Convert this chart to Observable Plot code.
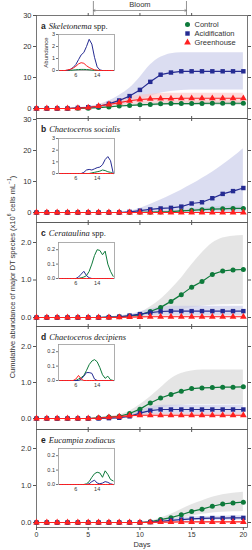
<!DOCTYPE html>
<html><head><meta charset="utf-8">
<script src="https://cdn.jsdelivr.net/npm/d3@7"></script>
<script src="https://cdn.jsdelivr.net/npm/@observablehq/plot@0.6"></script>
<style>
html,body{margin:0;padding:0;background:#fff;}
#chart{position:relative;width:252px;height:550px;overflow:hidden;font-family:"Liberation Sans",Arial,sans-serif;color:#333;}
#chart svg{position:absolute;left:0;}
.plabel{position:absolute;left:41px;height:8px;line-height:8px;white-space:nowrap;color:#222;}
.plabel b{font-family:"Liberation Sans",Arial,sans-serif;font-weight:bold;font-size:8.5px;margin-right:3px;}
.plabel span{font-family:"Liberation Serif","Times New Roman",serif;font-size:8.5px;}
#ytitle{position:absolute;left:-121px;top:271px;width:260px;height:12px;line-height:12px;text-align:center;font-size:7.5px;transform:rotate(-90deg);transform-origin:50% 50%;white-space:nowrap;color:#333;}
</style></head>
<body><div id="chart"></div>
<script>
const days = [0,1,2,3,4,5,6,7,8,9,10,11,12,13,14,15,16,17,18,19,20];
const seriesNames = ["Control","Acidification","Greenhouse"];
const bloomDays = [5.5, 14.5];

// Panel a: Skeletonema spp.
const aControl   = [0,0,0,0,0.05,0.1,0.3,0.5,0.8,1.0,1.2,1.3,1.5,1.6,1.6,1.6,1.65,1.7,1.7,1.7,1.7];
const aControlLo = [0,0,0,0,0,0.05,0.15,0.3,0.5,0.6,0.7,0.8,0.9,1.0,1.0,1.0,1.0,1.0,1.0,1.0,1.0];
const aControlHi = [0,0,0,0,0.1,0.2,0.45,0.75,1.1,1.4,1.7,1.9,2.1,2.2,2.2,2.3,2.3,2.3,2.3,2.3,2.3];
const aAcid      = [0,0,0,0,0.2,0.4,0.7,1.5,2.6,4.0,6.0,8.6,10.9,11.6,12,12,12,12,12,12,12];
const aAcidLo    = [0,0,0,0,0.1,0.2,0.3,0.6,1.1,1.8,2.7,3.8,4.9,5.5,5.8,6,6,6,6,6,6];
const aAcidHi    = [0,0,0,0,0.3,0.6,1.2,2.4,4.2,6.5,10,14,16.5,17.7,18,18,18,18,18,18,18];
const aGreen     = [0,0,0,0,0.1,0.3,0.8,1.3,1.9,2.5,2.9,3.1,3.2,3.2,3.3,3.3,3.3,3.3,3.3,3.3,3.3];
const aGreenLo   = [0,0,0,0,0.05,0.15,0.4,0.7,1.0,1.3,1.5,1.6,1.7,1.7,1.7,1.7,1.7,1.7,1.7,1.7,1.7];
const aGreenHi   = [0,0,0,0,0.15,0.45,1.2,2.0,2.9,3.7,4.3,4.6,4.8,4.9,4.9,4.9,4.9,4.9,4.9,4.9,4.9];
const aInsControl = [0,0,0,0,0.02,0.04,0.06,0.08,0.09,0.09,0.08,0.06,0.04,0.02,0.01,0,0,0,0,0,0];
const aInsAcid    = [0,0,0,0.02,0.1,0.25,0.5,0.9,1.3,1.5,2.0,2.6,2.2,1.1,0.3,0.05,0,0,0,0,0];
const aInsGreen   = [0,0,0,0.05,0.1,0.2,0.35,0.55,0.65,0.6,0.4,0.25,0.15,0.05,0.02,0,0,0,0,0,0];

// Panel b: Chaetoceros socialis
const bControl   = [0,0,0,0,0,0,0,0,0,0,0.05,0.1,0.2,0.3,0.5,0.7,0.9,1.1,1.2,1.3,1.3];
const bControlLo = [0,0,0,0,0,0,0,0,0,0,0,0.05,0.1,0.15,0.25,0.35,0.45,0.55,0.6,0.65,0.65];
const bControlHi = [0,0,0,0,0,0,0,0,0,0,0.1,0.2,0.4,0.6,0.9,1.2,1.5,1.8,2.0,2.1,2.1];
const bAcid      = [0,0,0,0,0,0,0,0,0,0.2,0.6,1.0,1.3,1.5,1.9,2.9,3.3,4.6,6.0,6.9,7.9];
const bAcidLo    = [0,0,0,0,0,0,0,0,0,0,0,0,0,0,0,0,0,0,0,0,0];
const bAcidHi    = [0,0,0,0,0,0,0,0,0,0.4,1.3,2.6,4,5.6,7.2,9,11,13,15.3,17.8,20.6];
const bGreen     = [0,0,0,0,0,0,0,0,0,0,0,0,0,0,0,0,0,0,0,0,0];
const bGreenLo   = [0,0,0,0,0,0,0,0,0,0,0,0,0,0,0,0,0,0,0,0,0];
const bGreenHi   = [0,0,0,0,0,0,0,0,0,0,0,0,0,0,0,0,0,0,0,0,0];
const bInsControl = [0,0,0,0,0,0,0,0,0,0,0,0,0.05,0.1,0.15,0.2,0.3,0.25,0.15,0.1,0];
const bInsAcid    = [0,0,0,0,0,0,0,0,0,0.1,0.3,0.35,0.3,0.4,0.5,0.55,0.75,1.2,1.45,1.1,0.05];
const bInsGreen   = [0,0,0,0,0,0,0,0,0,0,0,0,0,0,0,0,0,0,0,0,0];

// Panel c: Cerataulina spp.
const cControl   = [0,0,0,0,0,0,0,0.01,0.02,0.04,0.07,0.16,0.27,0.43,0.61,0.81,0.96,1.15,1.24,1.27,1.28];
const cControlLo = [0,0,0,0,0,0,0,0,0.01,0.02,0.03,0.06,0.1,0.15,0.2,0.26,0.3,0.33,0.34,0.35,0.35];
const cControlHi = [0,0,0,0,0,0,0,0.02,0.04,0.07,0.13,0.28,0.48,0.75,1.05,1.4,1.72,1.98,2.12,2.17,2.19];
const cAcid      = [0,0,0,0,0,0,0,0.01,0.02,0.05,0.09,0.13,0.16,0.17,0.17,0.17,0.17,0.17,0.17,0.17,0.17];
const cAcidLo    = [0,0,0,0,0,0,0,0,0.01,0.02,0.03,0.04,0.05,0.05,0.05,0.05,0.05,0.05,0.05,0.05,0.05];
const cAcidHi    = [0,0,0,0,0,0,0,0.02,0.04,0.08,0.15,0.22,0.28,0.3,0.3,0.3,0.3,0.3,0.3,0.3,0.3];
const cGreen     = [0,0,0,0,0,0,0,0,0.005,0.01,0.015,0.02,0.02,0.02,0.02,0.02,0.02,0.02,0.02,0.02,0.02];
const cGreenLo   = [0,0,0,0,0,0,0,0,0,0,0,0,0,0,0,0,0,0,0,0,0];
const cGreenHi   = [0,0,0,0,0,0,0,0,0.01,0.02,0.03,0.04,0.04,0.04,0.04,0.04,0.04,0.04,0.04,0.04,0.04];
const cInsControl = [0,0,0,0,0,0,0,0,0.005,0.01,0.02,0.05,0.1,0.16,0.2,0.195,0.165,0.19,0.1,0.05,0.015];
const cInsAcid    = [0,0,0,0,0,0,0,0.01,0.03,0.05,0.02,0.005,0,0,0,0,0,0,0,0,0];
const cInsGreen   = [0,0,0,0,0,0,0,0,0,0,0,0,0,0,0,0,0,0,0,0,0];

// Panel d: Chaetoceros decipiens
const dControl   = [0,0,0,0,0,0,0.02,0.04,0.06,0.14,0.26,0.43,0.57,0.67,0.76,0.83,0.85,0.86,0.87,0.87,0.88];
const dControlLo = [0,0,0,0,0,0,0.01,0.02,0.03,0.08,0.14,0.22,0.28,0.33,0.36,0.38,0.38,0.38,0.38,0.38,0.38];
const dControlHi = [0,0,0,0,0,0,0.03,0.06,0.1,0.2,0.38,0.6,0.85,1.1,1.25,1.32,1.35,1.35,1.35,1.35,1.35];
const dAcid      = [0,0,0,0,0,0,0,0.01,0.02,0.06,0.15,0.22,0.25,0.25,0.25,0.25,0.25,0.25,0.25,0.25,0.25];
const dAcidLo    = [0,0,0,0,0,0,0,0,0.01,0.03,0.07,0.1,0.12,0.12,0.12,0.12,0.12,0.12,0.12,0.12,0.12];
const dAcidHi    = [0,0,0,0,0,0,0,0.02,0.04,0.1,0.22,0.32,0.36,0.37,0.37,0.37,0.37,0.37,0.37,0.37,0.37];
const dGreen     = [0,0,0,0,0,0,0.01,0.03,0.05,0.08,0.09,0.09,0.09,0.09,0.09,0.09,0.09,0.09,0.09,0.09,0.09];
const dGreenLo   = [0,0,0,0,0,0,0,0.01,0.03,0.05,0.05,0.05,0.05,0.05,0.05,0.05,0.05,0.05,0.05,0.05,0.05];
const dGreenHi   = [0,0,0,0,0,0,0.02,0.05,0.08,0.11,0.13,0.13,0.13,0.13,0.13,0.13,0.13,0.13,0.13,0.13,0.13];
const dInsControl = [0,0,0,0,0,0,0,0.01,0.02,0.035,0.07,0.11,0.135,0.145,0.13,0.09,0.04,0.015,0.03,0.005,0];
const dInsAcid    = [0,0,0,0,0,0,0,0,0.01,0.03,0.055,0.055,0.05,0.01,0,0,0,0,0,0,0];
const dInsGreen   = [0,0,0,0,0,0,0.01,0.035,0.01,0,0,0,0,0,0,0,0,0,0,0,0];

// Panel e: Eucampia zodiacus
const eControl   = [0,0,0,0,0,0,0,0,0,0,0,0.02,0.08,0.13,0.21,0.3,0.36,0.44,0.5,0.53,0.55];
const eControlLo = [0,0,0,0,0,0,0,0,0,0,0,0.01,0.04,0.07,0.12,0.17,0.22,0.26,0.28,0.29,0.3];
const eControlHi = [0,0,0,0,0,0,0,0,0,0,0,0.03,0.12,0.22,0.35,0.48,0.58,0.68,0.75,0.79,0.82];
const eAcid      = [0,0,0,0,0,0,0,0,0,0,0,0.01,0.03,0.06,0.08,0.1,0.11,0.12,0.12,0.125,0.125];
const eAcidLo    = [0,0,0,0,0,0,0,0,0,0,0,0,0.01,0.03,0.04,0.05,0.06,0.06,0.06,0.06,0.06];
const eAcidHi    = [0,0,0,0,0,0,0,0,0,0,0,0.02,0.05,0.09,0.12,0.15,0.16,0.17,0.17,0.18,0.18];
const eGreen     = [0,0,0,0,0,0,0,0,0,0,0,0.005,0.01,0.01,0.015,0.015,0.015,0.015,0.015,0.015,0.015];
const eGreenLo   = [0,0,0,0,0,0,0,0,0,0,0,0,0,0,0,0,0,0,0,0,0];
const eGreenHi   = [0,0,0,0,0,0,0,0,0,0,0,0.01,0.02,0.02,0.03,0.03,0.03,0.03,0.03,0.03,0.03];
const eInsControl = [0,0,0,0,0,0,0,0,0,0,0.005,0.02,0.05,0.075,0.085,0.08,0.05,0.095,0.07,0.035,0.025];
const eInsAcid    = [0,0,0,0,0,0,0,0,0,0,0,0.005,0.02,0.03,0.01,0.005,0.01,0.02,0.015,0.005,0];
const eInsGreen   = [0,0,0,0,0,0,0,0,0,0,0,0,0,0,0,0,0,0,0,0,0];

const series = [
  {key:"ctrl", name:seriesNames[0], color:"#0e7a3b", symbol:"circle",   band:"#d4d4d4"},
  {key:"acid", name:seriesNames[1], color:"#252b92", symbol:"square",   band:"#c3c7e8"},
  {key:"gh",   name:seriesNames[2], color:"#ff2020", symbol:"triangle", band:"#fcc4c4"}
];

const panels = [
  {letter:"a", genus:"Skeletonema", rest:" spp.", top:15, bottom:118, zero:108, ppu:3.1, yTicks:[0,10,20,30],
   data:[[aControl,aControlLo,aControlHi],[aAcid,aAcidLo,aAcidHi],[aGreen,aGreenLo,aGreenHi]],
   ins:[aInsControl,aInsAcid,aInsGreen], insTop:34, insH:36, insDomain:[0,3], insTicks:[0,1,2,3], insFmt:"d"},
  {letter:"b", genus:"Chaetoceros socialis", rest:"", top:118, bottom:222, zero:212, ppu:3.1, yTicks:[0,10,20,30],
   data:[[bControl,bControlLo,bControlHi],[bAcid,bAcidLo,bAcidHi],[bGreen,bGreenLo,bGreenHi]],
   ins:[bInsControl,bInsAcid,bInsGreen], insTop:138, insH:35, insDomain:[0,3], insTicks:[0,1,2,3], insFmt:"d"},
  {letter:"c", genus:"Cerataulina", rest:" spp.", top:222, bottom:326, zero:317, ppu:37.5, yTicks:[0,1,2],
   data:[[cControl,cControlLo,cControlHi],[cAcid,cAcidLo,cAcidHi],[cGreen,cGreenLo,cGreenHi]],
   ins:[cInsControl,cInsAcid,cInsGreen], insTop:242, insH:36, insDomain:[0,0.25], insTicks:[0,0.1,0.2], insFmt:".1f"},
  {letter:"d", genus:"Chaetoceros decipiens", rest:"", top:326, bottom:429, zero:418, ppu:36, yTicks:[0,1,2],
   data:[[dControl,dControlLo,dControlHi],[dAcid,dAcidLo,dAcidHi],[dGreen,dGreenLo,dGreenHi]],
   ins:[dInsControl,dInsAcid,dInsGreen], insTop:344, insH:36, insDomain:[0,0.25], insTicks:[0,0.1,0.2], insFmt:".1f"},
  {letter:"e", genus:"Eucampia zodiacus", rest:"", top:429, bottom:527, zero:522, ppu:37, yTicks:[0,1,2],
   data:[[eControl,eControlLo,eControlHi],[eAcid,eAcidLo,eAcidHi],[eGreen,eGreenLo,eGreenHi]],
   ins:[eInsControl,eInsAcid,eInsGreen], insTop:448, insH:36, insDomain:[0,0.25], insTicks:[0,0.1,0.2], insFmt:".1f"}
];

const chart = document.getElementById("chart");
const FRAME = "#555";
const TXT = "#333";
const X0 = 36, X1 = 247, XDOM = [0, 20.4];

panels.forEach((p, idx) => {
  const last = idx === panels.length - 1;
  const first = idx === 0;
  const mt = 15, mb = last ? 23 : 6;
  const H = p.bottom - p.top;
  const lo = (p.zero - p.bottom) / p.ppu, hi = (p.zero - p.top) / p.ppu;
  const rows = days.map((d, i) => {
    const r = {day: d};
    series.forEach((s, k) => {
      r[s.key] = p.data[k][0][i];
      r[s.key + "Lo"] = p.data[k][1][i];
      r[s.key + "Hi"] = p.data[k][2][i];
    });
    return r;
  });
  const marks = [];
  series.forEach(s => marks.push(Plot.areaY(rows, {x:"day", y1:s.key+"Lo", y2:s.key+"Hi", fill:s.band, fillOpacity:0.6, curve:"monotone-x"})));
  marks.push(Plot.frame({stroke:FRAME, strokeWidth:0.8}));
  marks.push(Plot.axisY({ticks:p.yTicks, tickSize:3, tickPadding:2, fontSize:7.5, label:null, stroke:FRAME, fill:TXT}));
  marks.push(Plot.axisY({anchor:"right", ticks:p.yTicks, tickSize:3, label:null, stroke:FRAME, fill:"none"}));
  marks.push(Plot.axisX({anchor:"top", ticks:[5,10,15], tickSize:3, label:null, stroke:FRAME, fill:"none"}));
  marks.push(Plot.axisX({anchor:"bottom", ticks: last ? [0,5,10,15,20] : [5,10,15], tickSize:3, tickPadding:1.5, fontSize:7, label:null, stroke:FRAME, fill: last ? TXT : "none"}));
  series.forEach(s => {
    marks.push(Plot.line(rows, {x:"day", y:s.key, stroke:s.color, strokeWidth:1.2}));
    marks.push(Plot.dot(rows, {x:"day", y:s.key, fill:s.color, symbol:s.symbol, r:2.5}));
  });
  if (last) {
    marks.push(Plot.text(["Days"], {frameAnchor:"bottom", dy:17.5, lineAnchor:"middle", fontSize:7.5, fill:TXT}));
  }
  if (first) {
    const mid = (bloomDays[0] + bloomDays[1]) / 2;
    const yTopAnn = hi + 14 / p.ppu, yArrow = hi + 5 / p.ppu;
    marks.push(Plot.ruleX(bloomDays, {x:d=>d, y1:hi, y2:yTopAnn, stroke:"#777", strokeWidth:0.8}));
    marks.push(Plot.arrow([bloomDays[0], bloomDays[1]], {x1:mid, x2:d=>d, y1:yArrow, y2:yArrow, stroke:"#777", strokeWidth:0.7, headLength:4}));
    marks.push(Plot.text(["Bloom"], {x:mid, frameAnchor:"top", dy:-10.5, lineAnchor:"middle", fontSize:7.5, fill:TXT}));
    series.forEach((s, i) => {
      marks.push(Plot.dot([s.name], {frameAnchor:"top-left", dx:151, dy:9 + 9*i, fill:s.color, symbol:s.symbol, r:2.5}));
      marks.push(Plot.text([s.name], {frameAnchor:"top-left", dx:158, dy:9 + 9*i, textAnchor:"start", lineAnchor:"middle", fontSize:7.5, fill:TXT}));
    });
  }
  const svg = Plot.plot({
    width:252, height:H + mt + mb,
    marginLeft:X0, marginRight:252 - X1, marginTop:mt, marginBottom:mb,
    style:{background:"transparent", overflow:"visible", fontFamily:"Liberation Sans, Arial, sans-serif"},
    x:{domain:XDOM},
    y:{domain:[lo, hi]},
    marks
  });
  svg.style.top = (p.top - mt) + "px";
  chart.appendChild(svg);

  // panel label
  const lab = document.createElement("div");
  lab.className = "plabel";
  lab.style.top = (p.top + 5) + "px";
  const b = document.createElement("b"); b.textContent = p.letter;
  const sp = document.createElement("span");
  const it = document.createElement("i"); it.textContent = p.genus;
  sp.appendChild(it);
  if (p.rest) sp.appendChild(document.createTextNode(p.rest));
  lab.appendChild(b); lab.appendChild(sp);
  chart.appendChild(lab);

  // inset
  const irows = days.map((d, i) => ({day:d, ctrl:p.ins[0][i], acid:p.ins[1][i], gh:p.ins[2][i]}));
  const iml = 22, imr = 2, imt = 2, imb = 10, IX0 = 58, IX1 = 114;
  const imarks = [
    Plot.frame({stroke:"#999", strokeWidth:0.8}),
    Plot.axisY({ticks:p.insTicks, tickSize:2, tickPadding:1.5, fontSize:5.5, tickFormat:p.insFmt, label:null, stroke:"#777", fill:TXT}),
    Plot.axisX({ticks:[6,14], tickSize:0, tickPadding:3, fontSize:5.5, label:null, fill:TXT})
  ];
  series.forEach(s => imarks.push(Plot.line(irows, {x:"day", y:s.key, stroke:s.color, strokeWidth:1})));
  if (first) imarks.push(Plot.text(["Abundance"], {frameAnchor:"left", dx:-12, rotate:-90, textAnchor:"middle", lineAnchor:"middle", fontSize:6, fill:TXT}));
  const isvg = Plot.plot({
    width:(IX1 - IX0) + iml + imr, height:p.insH + imt + imb,
    marginLeft:iml, marginRight:imr, marginTop:imt, marginBottom:imb,
    style:{background:"transparent", overflow:"visible", fontFamily:"Liberation Sans, Arial, sans-serif"},
    x:{domain:[-0.5, 20.5]},
    y:{domain:p.insDomain},
    marks:imarks
  });
  isvg.style.left = (IX0 - iml) + "px";
  isvg.style.top = (p.insTop - imt) + "px";
  chart.appendChild(isvg);
});

const yt = document.createElement("div");
yt.id = "ytitle";
yt.innerHTML = "Cumulative abundance of major DT species (x10<sup style=\"font-size:5px\">6</sup> cells mL<sup style=\"font-size:5px\">−1</sup>)";
chart.appendChild(yt);
</script>
</body></html>
